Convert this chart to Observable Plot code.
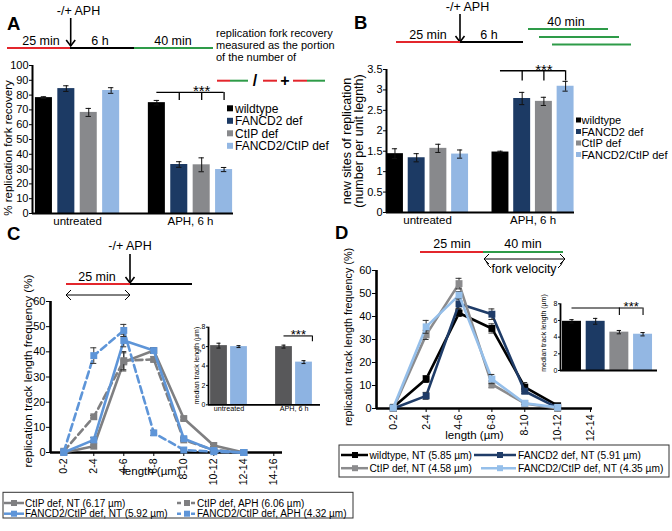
<!DOCTYPE html>
<html><head><meta charset="utf-8">
<script src="https://cdn.jsdelivr.net/npm/d3@7"></script>
<script src="https://cdn.jsdelivr.net/npm/@observablehq/plot@0.6"></script>
<style>
html,body{margin:0;padding:0;background:#fff}
#fig{position:relative;width:672px;height:531px;overflow:hidden;background:#fff;font-family:"Liberation Sans",Arial,Helvetica,sans-serif;color:#000}
</style></head>
<body><div id="fig"></div>
<script>
// ---------------- data ----------------
const barGroups = ["untreated", "APH, 6 h"];
const genotypes = ["wildtype", "FANCD2 def", "CtIP def", "FANCD2/CtIP def"];
const genoColors = ["#000000", "#1c3a64", "#88898c", "#93b7e3"];

// A: % replication fork recovery
const recoveryMean = [[78.3, 84.4, 68.3, 83.1], [74.9, 33.1, 32.9, 29.7]];
const recoveryErr  = [[0.6, 1.9, 2.7, 1.9], [1.5, 1.9, 4.7, 1.4]];
const recoveryTicks = [0, 10, 20, 30, 40, 50, 60, 70, 80, 90, 100];

// B: new sites of replication
const originsMean = [[1.44, 1.34, 1.57, 1.43], [1.48, 2.79, 2.72, 3.09]];
const originsErr  = [[0.12, 0.1, 0.1, 0.1], [0.02, 0.15, 0.1, 0.12]];
const originsTicks = [0, 0.5, 1, 1.5, 2, 2.5, 3, 3.5];

// C: track length distribution
const binsC = ["0-2", "2-4", "4-6", "6-8", "8-10", "10-12", "12-14", "14-16"];
const seriesC = ["CtIP def, NT (6.17 µm)", "CtIP def, APH (6.06 µm)", "FANCD2/CtIP def, NT (5.92 µm)", "FANCD2/CtIP def, APH (4.32 µm)"];
const colorsC = ["#7f7f81", "#7f7f81", "#5e95d8", "#5e95d8"];
const freqC = [
  [0, 2.5, 36, 40.5, 13.5, 2.8, 0],
  [0.5, 14.2, 36.5, 37, 5, 1, 0],
  [0, 5, 44.5, 40.5, 5.5, 0.8, 0],
  [0.3, 38.5, 48.5, 7.8, 1, 0.3, 0]
];
const freqCErr = [
  [0, 0.5, 3.6, 1, 0.6, 0.4, 0],
  [0, 0.5, 3.6, 1, 0.5, 0.3, 0],
  [0, 1, 2.5, 1, 0.6, 0.3, 0],
  [0, 3.1, 2.4, 1, 0.4, 0.2, 0]
];
const freqTicks = [0, 10, 20, 30, 40, 50, 60];

// C inset: median track length
const insetCKeys = ["CtIP def", "FANCD2/CtIP def"];
const insetCColors = ["#58585a", "#8db3e2"];
const medianC = [[6.1, 6.0], [6.0, 4.4]];
const medianCErr = [[0.25, 0.1], [0.15, 0.15]];
const medianTicks = [0, 2, 4, 6, 8];

// D: track length distribution (untreated)
const binsD = ["0-2", "2-4", "4-6", "6-8", "8-10", "10-12", "12-14"];
const seriesD = ["wildtype, NT (5.85 µm)", "FANCD2 def, NT (5.91 µm)", "CtIP def, NT (4.58 µm)", "FANCD2/CtIP def, NT (4.35 µm)"];
const colorsD = ["#000000", "#1f3c68", "#8b8b8d", "#95bfea"];
const freqD = [
  [0.5, 12.8, 41.5, 34.8, 9.3, 1.2],
  [0, 5.5, 45.5, 41, 7.5, 0.3],
  [0, 32, 54.3, 10.5, 2.2, 0],
  [0.3, 35.5, 49.3, 12.8, 2.3, 0.5]
];
const freqDErr = [
  [0, 1.5, 1.5, 2, 2, 0.5],
  [0, 1.5, 2, 2.3, 1, 0.3],
  [0, 2, 2.3, 1.5, 0.5, 0],
  [0, 2.8, 1.5, 2, 0.5, 0.3]
];
// D inset
const medianD = [[5.9, 5.9, 4.6, 4.35]];
const medianDErr = [[0.2, 0.35, 0.2, 0.2]];

// ---------------- helpers ----------------
const FONT = '"Liberation Sans", Arial, Helvetica, sans-serif';
const RED = "#e3262c", GREEN = "#2e9b48";
const fig = document.getElementById("fig");
const baseStyle = {fontFamily: FONT, fontSize: "11px", background: "transparent", overflow: "visible", color: "#000"};
function put(node, left, top) {
  node.style.position = "absolute";
  node.style.left = left + "px";
  node.style.top = top + "px";
  fig.appendChild(node);
}

function barChart(o) {
  const P = (gi, ci) => gi * o.offset + ci;
  const rows = [];
  o.means.forEach((g, gi) => g.forEach((v, ci) => rows.push({key: o.keys[ci], pos: P(gi, ci), v, e: o.errs[gi][ci]})));
  const marks = [
    Plot.rectY(rows, {x1: d => d.pos - o.halfW, x2: d => d.pos + o.halfW, y1: 0, y2: "v", fill: "key"}),
    Plot.ruleX(rows, {x: "pos", y1: d => d.v - d.e, y2: d => d.v + d.e, stroke: "#111", strokeWidth: o.ew}),
    Plot.ruleY(rows, {y: d => d.v + d.e, x1: d => d.pos - o.cap, x2: d => d.pos + o.cap, stroke: "#111", strokeWidth: o.ew}),
    Plot.ruleY(rows, {y: d => d.v - d.e, x1: d => d.pos - o.cap, x2: d => d.pos + o.cap, stroke: "#111", strokeWidth: o.ew}),
    Plot.ruleY([0], {stroke: "#000", strokeWidth: o.axisW}),
    Plot.ruleX([o.xDomain[0]], {stroke: "#000", strokeWidth: o.axisW}),
    Plot.axisY({ticks: o.yTicks, tickFormat: d => String(d), tickSize: o.tickSize, tickPadding: o.tickPad, fontSize: o.tickFont, label: null})
  ];
  if (o.groups) {
    const gd = o.groups.map((name, gi) => ({name, x: (P(gi, 0) + P(gi, o.keys.length - 1)) / 2}));
    marks.push(Plot.text(gd, {x: "x", y: 0, text: "name", lineAnchor: "top", dy: o.groupDy, fontSize: o.groupFont}));
  }
  if (o.sig) {
    const s = o.sig(P);
    marks.push(Plot.ruleY([s], {y: "y", x1: "x1", x2: "x2", stroke: "#000", strokeWidth: o.sigW}));
    marks.push(Plot.ruleX(s.drops, {x: d => d, y1: s.y, y2: s.yEnd, stroke: "#000", strokeWidth: o.sigW}));
    marks.push(Plot.text(["***"], {text: d => d, x: s.tx, y: s.y, dy: s.tdy, fontSize: s.tsize}));
  }
  const svg = Plot.plot({
    width: o.width, height: o.height,
    marginLeft: o.ml, marginRight: o.mr, marginTop: o.mt, marginBottom: o.mb,
    x: {domain: o.xDomain, axis: null},
    y: {domain: o.yDomain, axis: null},
    color: {domain: o.keys, range: o.colors},
    style: baseStyle,
    marks
  });
  put(svg, o.left, o.top);
}

function lineChart(o) {
  const marks = [
    Plot.ruleY([0], {stroke: "#000", strokeWidth: 2.6}),
    Plot.ruleX([o.xDomain[0]], {stroke: "#000", strokeWidth: 2.6}),
    Plot.axisY({ticks: o.yTicks, tickSize: 4, tickPadding: 1, fontSize: o.tickFont, label: null}),
    Plot.axisX({ticks: d3.range(o.bins.length), tickFormat: i => o.bins[i], tickRotate: -90, tickSize: 4, tickPadding: 2, fontSize: o.xTickFont, label: null}),
    Plot.text(["length (µm)"], {text: d => d, frameAnchor: "bottom", dx: o.xlabelDx, dy: o.xlabelDy, fontSize: o.xlabelFont})
  ];
  o.series.forEach((name, si) => {
    const pts = o.values[si].map((v, i) => ({i, v, e: o.errs[si][i], s: name}));
    const dash = name.includes("APH") ? "7,4" : undefined;
    const ep = pts.filter(d => d.e > 0);
    marks.push(Plot.line(pts, {x: "i", y: "v", stroke: "s", strokeWidth: 2.6, strokeDasharray: dash}));
    marks.push(Plot.ruleX(ep, {x: "i", y1: d => d.v - d.e, y2: d => d.v + d.e, stroke: "#333", strokeWidth: 1}));
    marks.push(Plot.ruleY(ep, {y: d => d.v + d.e, x1: d => d.i - o.cap, x2: d => d.i + o.cap, stroke: "#333", strokeWidth: 1}));
    marks.push(Plot.ruleY(ep, {y: d => d.v - d.e, x1: d => d.i - o.cap, x2: d => d.i + o.cap, stroke: "#333", strokeWidth: 1}));
    marks.push(Plot.dot(pts, {x: "i", y: "v", symbol: "square", r: 3.9, fill: "s"}));
  });
  const svg = Plot.plot({
    width: o.width, height: o.height,
    marginLeft: o.ml, marginRight: o.mr, marginTop: o.mt, marginBottom: o.mb,
    x: {domain: o.xDomain},
    y: {domain: o.yDomain},
    color: {domain: o.series, range: o.colors},
    style: baseStyle,
    marks
  });
  put(svg, o.left, o.top);
}

// ---------------- panel A ----------------
barChart({
  left: 0, top: 55, width: 240, height: 178, ml: 32, mr: 7, mt: 10, mb: 20,
  means: recoveryMean, errs: recoveryErr, keys: genotypes, colors: genoColors,
  offset: 5.04, halfW: 0.38, cap: 0.12, ew: 1, axisW: 2,
  xDomain: [-0.51, 8.46], yDomain: [0, 100], yTicks: recoveryTicks,
  tickSize: 3, tickPad: 1, tickFont: 11,
  groups: barGroups, groupDy: 3, groupFont: 11.5,
  sigW: 1.3,
  sig: P => ({y: 81.8, yEnd: 76.3, x1: P(1, 0), x2: P(1, 3), drops: [P(1, 1), P(1, 2), P(1, 3)], tx: P(1, 2), tdy: -1, tsize: 15})
});

// ---------------- panel B ----------------
barChart({
  left: 336, top: 60, width: 245, height: 170, ml: 50, mr: 7, mt: 9, mb: 18,
  means: originsMean, errs: originsErr, keys: genotypes, colors: genoColors,
  offset: 4.86, halfW: 0.39, cap: 0.12, ew: 1, axisW: 2,
  xDomain: [-0.39, 8.27], yDomain: [0, 3.5], yTicks: originsTicks,
  tickSize: 3, tickPad: 1, tickFont: 11,
  groups: barGroups, groupDy: 3, groupFont: 11.5,
  sigW: 1.3,
  sig: P => ({y: 3.47, yEnd: 3.22, x1: P(1, 0), x2: P(1, 3), drops: [P(1, 1), P(1, 2), P(1, 3)], tx: P(1, 2), tdy: -1, tsize: 15})
});

// ---------------- panel C ----------------
lineChart({
  left: 0, top: 290, width: 290, height: 200, ml: 50, mr: 8, mt: 11, mb: 38,
  bins: binsC, series: seriesC, colors: colorsC, values: freqC, errs: freqCErr,
  xDomain: [-0.443, 7.29], yDomain: [0, 60], yTicks: freqTicks, cap: 0.1,
  tickFont: 11, xTickFont: 10.5,
  xlabelDx: -15, xlabelDy: 22, xlabelFont: 11.5
});

// C inset
barChart({
  left: 190, top: 318, width: 131, height: 100, ml: 18, mr: 1, mt: 8.7, mb: 13.7,
  means: medianC, errs: medianCErr, keys: insetCKeys, colors: insetCColors,
  offset: 3.25, halfW: 0.42, cap: 0.1, ew: 1, axisW: 1.8,
  xDomain: [-0.525, 5.075], yDomain: [0, 8], yTicks: medianTicks,
  tickSize: 2, tickPad: 1, tickFont: 7,
  groups: barGroups, groupDy: 1, groupFont: 7.2,
  sigW: 1.1,
  sig: P => ({y: 7.1, yEnd: 6.5, x1: P(1, 0), x2: P(1, 1) + 0.42, drops: [P(1, 1) + 0.42], tx: P(1, 0) + 0.72, tdy: -1, tsize: 13})
});

// ---------------- panel D ----------------
lineChart({
  left: 336, top: 260, width: 265, height: 190, ml: 40, mr: 9, mt: 10, mb: 42,
  bins: binsD, series: seriesD, colors: colorsD, values: freqD, errs: freqDErr,
  xDomain: [-0.51, 6.06], yDomain: [0, 60], yTicks: freqTicks, cap: 0.09,
  tickFont: 11, xTickFont: 10.5,
  xlabelDx: -10, xlabelDy: 30, xlabelFont: 11.5
});

// D inset
barChart({
  left: 530, top: 295, width: 130, height: 80, ml: 30, mr: 3, mt: 8.3, mb: 5,
  means: medianD, errs: medianDErr, keys: genotypes, colors: genoColors,
  offset: 0, halfW: 0.4, cap: 0.09, ew: 1, axisW: 1.8,
  xDomain: [-0.485, 3.61], yDomain: [0, 8], yTicks: medianTicks,
  tickSize: 2, tickPad: 1, tickFont: 7,
  sigW: 1.1,
  sig: P => ({y: 7.5, yEnd: 6.6, x1: P(0, 0), x2: P(0, 3), drops: [P(0, 2), P(0, 3)], tx: (P(0, 2) + P(0, 3)) / 2, tdy: -1, tsize: 13})
});

// ---------------- schematics, labels, legends, panel letters ----------------
const ov = d3.select(fig).append("svg")
  .attr("width", 672).attr("height", 531)
  .style("position", "absolute").style("left", "0px").style("top", "0px")
  .style("font-family", FONT).style("overflow", "visible");

function seg(x1, y1, x2, y2, c = "#000", w = 2, dash = null) {
  const l = ov.append("line").attr("x1", x1).attr("y1", y1).attr("x2", x2).attr("y2", y2)
    .attr("stroke", c).attr("stroke-width", w);
  if (dash) l.attr("stroke-dasharray", dash);
}
function txt(x, y, s, size = 12.5, anchor = "middle", weight = "normal") {
  ov.append("text").attr("x", x).attr("y", y).attr("font-size", size).attr("text-anchor", anchor)
    .attr("font-weight", weight).attr("fill", "#000").text(s);
}
function vtxt(cx, cy, s, size) {
  ov.append("text").attr("transform", `translate(${cx},${cy}) rotate(-90)`)
    .attr("font-size", size).attr("text-anchor", "middle").attr("dominant-baseline", "central")
    .attr("fill", "#000").text(s);
}
function arrowDown(x, y1, y2) {
  seg(x, y1, x, y2, "#000", 1.6);
  ov.append("path").attr("d", `M${x - 4.5},${y2 - 6}L${x},${y2}L${x + 4.5},${y2 - 6}`)
    .attr("fill", "none").attr("stroke", "#000").attr("stroke-width", 1.6);
}
function dblArrow(x1, x2, y, tails) {
  seg(x1, y, x2, y, "#000", 1);
  ov.append("path").attr("d", `M${x1 + 5},${y - 5}L${x1},${y}L${x1 + 5},${y + 5}`).attr("fill", "none").attr("stroke", "#000").attr("stroke-width", 1);
  ov.append("path").attr("d", `M${x2 - 5},${y - 5}L${x2},${y}L${x2 - 5},${y + 5}`).attr("fill", "none").attr("stroke", "#000").attr("stroke-width", 1);
  if (tails) {
    ov.append("path").attr("d", `M${x1 + 2},${y + 2}Q${x1 + 4},${y + 7} ${x1 + 7},${y + 9}`).attr("fill", "none").attr("stroke", "#000").attr("stroke-width", 1);
    ov.append("path").attr("d", `M${x2 - 2},${y + 2}Q${x2 - 4},${y + 7} ${x2 - 7},${y + 9}`).attr("fill", "none").attr("stroke", "#000").attr("stroke-width", 1);
  }
}

// axis titles
vtxt(7.5, 148, "% replication fork recovery", 11.5);
vtxt(347, 141, "new sites of replication", 12.5);
vtxt(359, 141, "(number per unit legnth)", 12.5);
vtxt(27, 371, "replication track length frequency (%)", 11.7);
vtxt(348, 337, "replication track length frequency (%)", 10.8);
vtxt(196.5, 365.5, "median track length (µm)", 7);
vtxt(543, 333, "median track length (µm)", 7);

// panel letters
txt(7, 30, "A", 18.5, "start", "bold");
txt(354, 29, "B", 18.5, "start", "bold");
txt(7, 240, "C", 18.5, "start", "bold");
txt(335, 239, "D", 18.5, "start", "bold");

// A schematic
seg(7, 48, 70, 48, RED, 2.2); seg(70, 48, 134, 48, "#000", 2.2); seg(134, 48, 213, 48, GREEN, 2.2);
txt(41, 44.5, "25 min"); txt(100, 44.5, "6 h"); txt(173, 44.5, "40 min");
txt(78.5, 15, "-/+ APH"); arrowDown(70.7, 18, 46);
txt(216, 37, "replication fork recovery", 11, "start");
txt(216, 49, "measured as the portion", 11, "start");
txt(216, 61, "of the number of", 11, "start");
seg(217, 80.7, 230, 80.7, RED, 2); seg(230, 80.7, 248, 80.7, GREEN, 2);
txt(255, 86, "/", 16, "middle", "bold");
seg(263, 80.7, 277, 80.7, RED, 2);
txt(285, 86, "+", 16, "middle", "bold");
seg(293, 80.7, 307, 80.7, RED, 2); seg(307, 80.7, 325, 80.7, GREEN, 2);

// A legend
genotypes.forEach((g, i) => {
  const y = 108.3 + i * 12.5;
  ov.append("rect").attr("x", 227).attr("y", y - 3).attr("width", 6).attr("height", 6).attr("fill", genoColors[i]);
  txt(235, y + 4.2, g, 12, "start");
});

// B schematic
txt(467.5, 11, "-/+ APH"); arrowDown(460, 14, 42);
seg(396, 42, 460, 42, RED, 2.2); seg(460, 42, 523, 42, "#000", 2.2);
txt(428, 38.5, "25 min"); txt(489, 38.5, "6 h");
seg(528, 29, 608, 29, GREEN, 2.2); seg(539, 37, 619, 37, GREEN, 2.2); seg(552, 44.5, 631, 44.5, GREEN, 2.2);
txt(566, 26, "40 min");

// B legend
genotypes.forEach((g, i) => {
  const y = 120 + i * 11.5;
  ov.append("rect").attr("x", 576).attr("y", y - 2.5).attr("width", 5).attr("height", 5).attr("fill", genoColors[i]);
  txt(581.5, y + 4, g, 11, "start");
});

// C schematic
txt(130, 250, "-/+ APH"); arrowDown(130, 254, 283);
seg(66, 284, 130, 284, RED, 2.2); seg(130, 284, 192, 284, "#000", 2.2);
txt(97, 281, "25 min");
dblArrow(66, 130, 295, false);

// D schematic
seg(420, 252, 483, 252, RED, 2.2); seg(483, 252, 563, 252, GREEN, 2.2);
txt(452, 248, "25 min"); txt(523, 248, "40 min");
dblArrow(484, 565, 259, true);
txt(524, 273, "fork velocity", 12.3);

// legends C & D
function legendMarker(x1, x2, y, color, dashed, sq) {
  if (dashed) seg(x1, y, x2, y, color, 2.5, "4,3");
  else seg(x1, y, x2, y, color, 2.5);
  const cx = sq !== undefined ? sq : (x1 + x2) / 2;
  ov.append("rect").attr("x", cx - 3).attr("y", y - 3).attr("width", 6).attr("height", 6).attr("fill", color);
}
ov.append("rect").attr("x", 3).attr("y", 492.3).attr("width", 350).attr("height", 25.7).attr("fill", "none").attr("stroke", "#333").attr("stroke-width", 1);
seriesC.forEach((s, k) => {
  const col = k % 2, row = Math.floor(k / 2);
  const y = 503 + row * 10.7;
  const mx = col ? 177 : 4;
  legendMarker(mx, mx + 20, y, colorsC[k], s.includes("APH"));
  txt(col ? 197 : 25, y + 3.6, s, 10, "start");
});
ov.append("rect").attr("x", 339).attr("y", 445).attr("width", 330).attr("height", 32).attr("fill", "none").attr("stroke", "#333").attr("stroke-width", 1);
seriesD.forEach((s, k) => {
  const col = k % 2, row = Math.floor(k / 2);
  const y = 455 + row * 13.2;
  if (col) legendMarker(row ? 481 : 474, 516, y, colorsD[k], false, 500);
  else legendMarker(341, 368, y, colorsD[k], false, 355);
  txt(col ? 518 : 369.5, y + 3.6, s, 10.2, "start");
});
</script>
</body></html>
